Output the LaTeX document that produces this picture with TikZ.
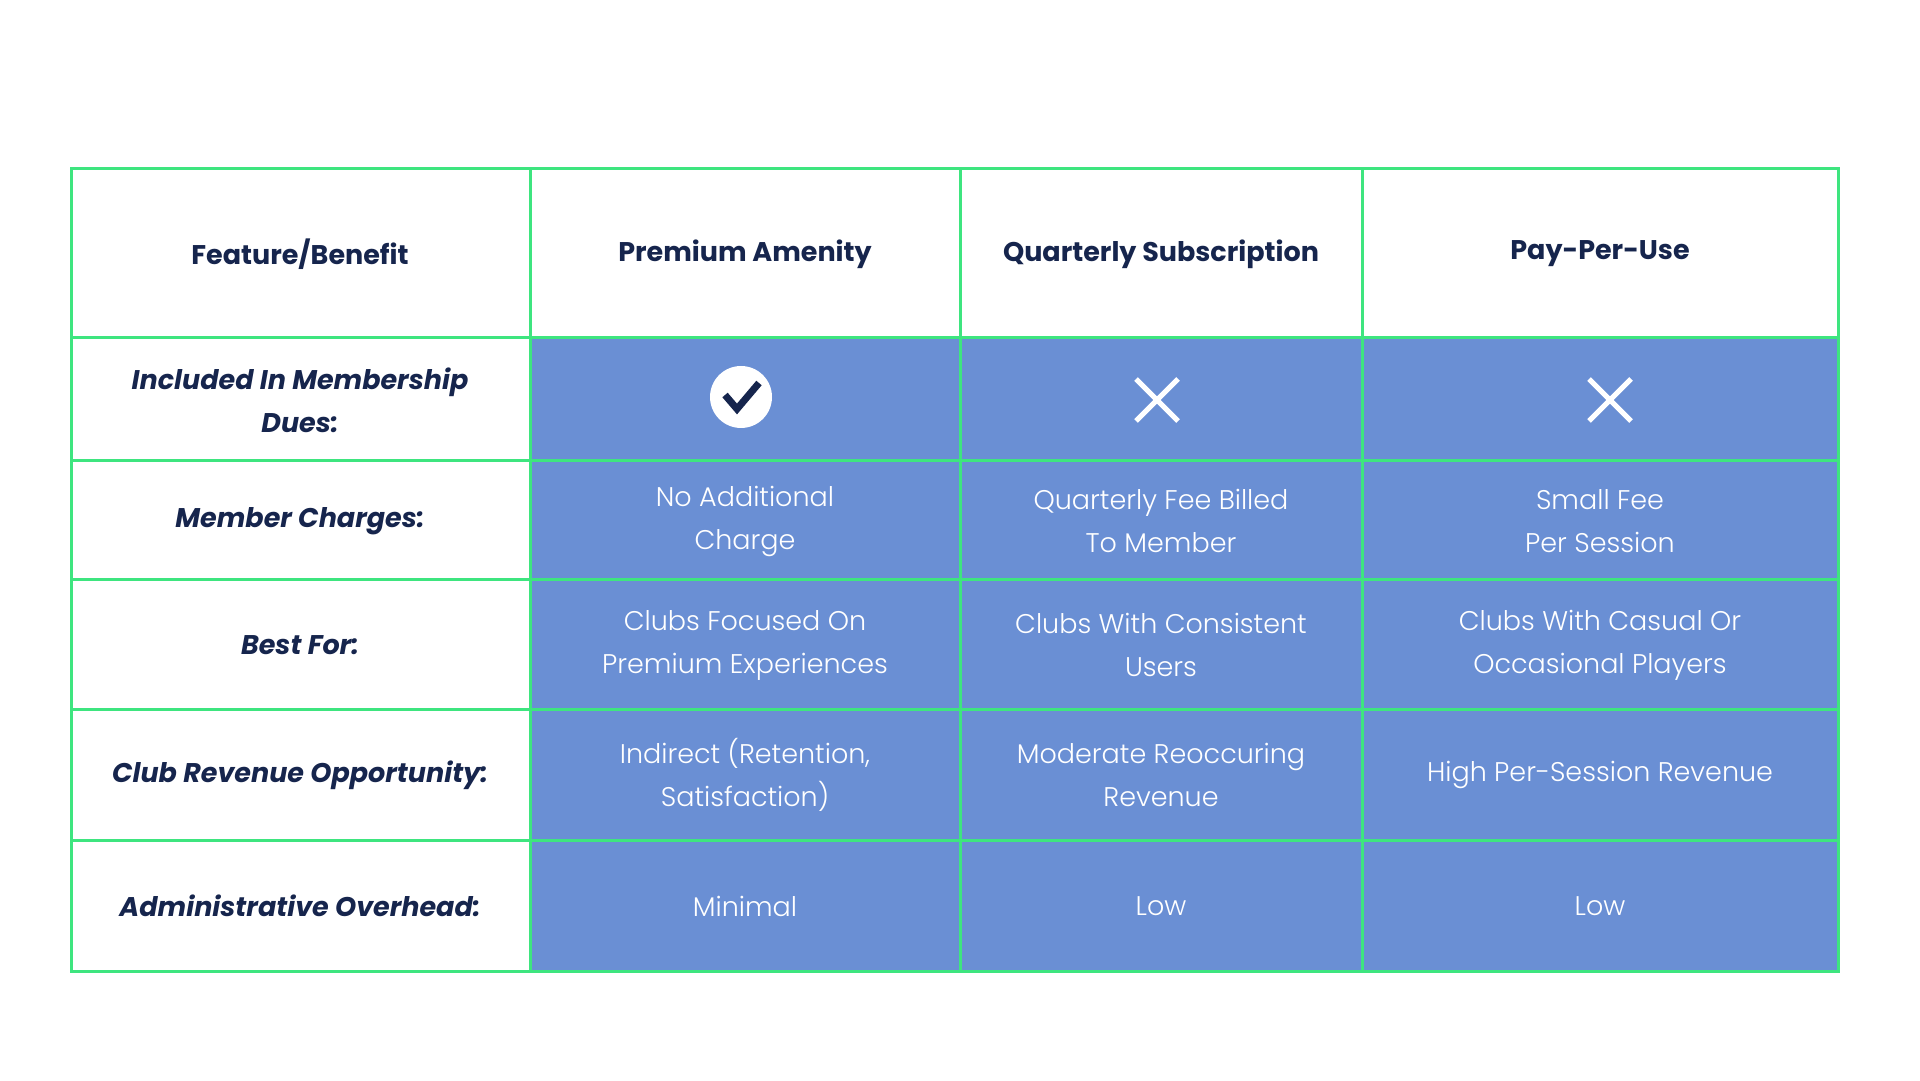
\documentclass[tikz,border=0pt]{standalone}
\usepackage{fontspec}
\setmainfont{Poppins}
\newfontfamily\lightf{Poppins Light}
\definecolor{gr}{HTML}{3EE57F}
\definecolor{bl}{HTML}{6A8FD4}
\definecolor{dk}{HTML}{16254D}
\begin{document}
\begin{tikzpicture}[x=1pt,y=1pt,
 hd/.style={font=\fontsize{27}{43}\selectfont\bfseries, text=dk, align=center},
 rl/.style={font=\fontsize{27}{43}\selectfont\bfseries\itshape, text=dk, align=center},
 bd/.style={font=\fontsize{27}{43}\selectfont\lightf, text=white, align=center}]
\useasboundingbox (0,0) rectangle (1920,1080);
\fill[white] (0,0) rectangle (1920,1080);
\fill[bl] (530,109) rectangle (1838,742);
\draw[gr,line width=3pt] (71,109) rectangle (1838,911);
\foreach \x in {530,960,1362} \draw[gr,line width=3pt] (\x,109) -- (\x,911);
\foreach \y in {742,619,500,370,240} \draw[gr,line width=3pt] (71,\y) -- (1838,\y);
\node[hd] (h1) at (300,826) {Feature/Benefit};
\node[hd] (h2) at (745,826) {Premium Amenity};
\node[hd] (h3) at (1161,826) {Quarterly Subscription};
\node[hd] (h4) at (1600,826) {Pay-Per-Use};
\node[rl] (r1) at (300,680) {Included In Membership\\Dues:};
\node[rl] (r2) at (300,559) {Member Charges:};
\node[rl] (r3) at (300,435) {Best For:};
\node[rl] (r4) at (300,305) {Club Revenue Opportunity:};
\node[rl] (r5) at (300,174) {Administrative Overhead:};
\fill[white] (741,683) circle (31);
\draw[dk,line width=7pt] (725,685) -- (737,671) -- (759,697);
\draw[white,line width=5pt] (1136,659) -- (1178,701) (1136,701) -- (1178,659);
\draw[white,line width=5pt] (1589,659) -- (1631,701) (1589,701) -- (1631,659);
\node[bd] (c21) at (745,559) {No Additional\\Charge};
\node[bd] (c22) at (1161,559) {Quarterly Fee Billed\\To Member};
\node[bd] (c23) at (1600,559) {Small Fee\\Per Session};
\node[bd] (c31) at (745,435) {Clubs Focused On\\Premium Experiences};
\node[bd] (c32) at (1161,435) {Clubs With Consistent\\Users};
\node[bd] (c33) at (1600,435) {Clubs With Casual Or\\Occasional Players};
\node[bd] (c41) at (745,305) {Indirect (Retention,\\Satisfaction)};
\node[bd] (c42) at (1161,305) {Moderate Reoccuring\\Revenue};
\node[bd] (c43) at (1600,305) {High Per-Session Revenue};
\node[bd] (c51) at (745,174) {Minimal};
\node[bd] (c52) at (1161,174) {Low};
\node[bd] (c53) at (1600,174) {Low};
\end{tikzpicture}
\end{document}
